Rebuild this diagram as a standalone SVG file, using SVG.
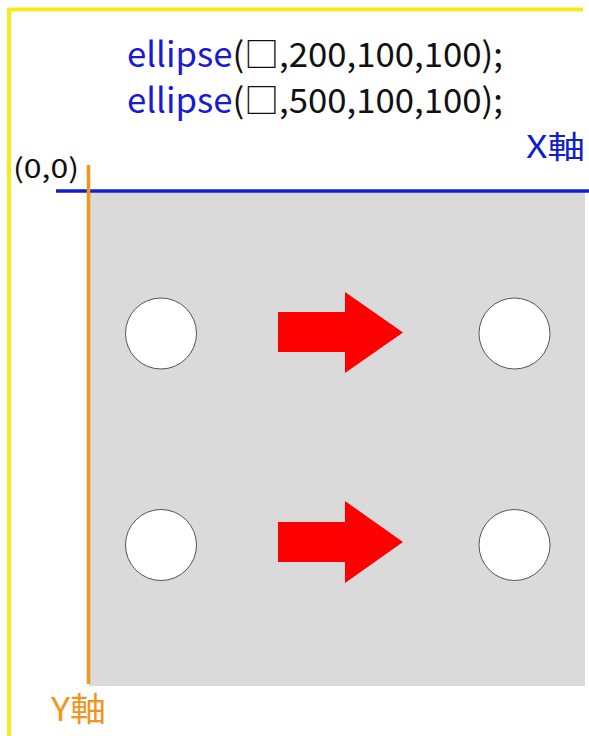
<svg xmlns="http://www.w3.org/2000/svg" width="589" height="736" viewBox="0 0 589 736">
<style>
.code{font-family:"Noto Sans CJK JP","Noto Sans",sans-serif;font-size:34px;fill:#111}
.kw{fill:#1a1ad0}
.lbl{font-family:"Noto Sans CJK JP","Noto Sans",sans-serif}
.circ{fill:#fff;stroke:#555;stroke-width:1}
.arr{fill:#ff0000}
</style>
<rect x="0" y="0" width="589" height="736" fill="#fff"/>
<g id="frame">
<line x1="9" y1="9.5" x2="583" y2="9.5" stroke="#f5ea1a" stroke-width="4"/>
<line x1="9" y1="8" x2="9" y2="736" stroke="#f5ea1a" stroke-width="4"/>
</g>
<g id="canvas">
<rect x="89" y="191" width="496" height="495" fill="#dadada"/>
</g>
<g id="code">
<text class="code" x="127" y="67" textLength="376" lengthAdjust="spacingAndGlyphs"><tspan class="kw">ellipse</tspan>(□,200,100,100);</text>
<text class="code" x="127" y="113" textLength="376" lengthAdjust="spacingAndGlyphs"><tspan class="kw">ellipse</tspan>(□,500,100,100);</text>
</g>
<g id="axes">
<line x1="56" y1="191" x2="589" y2="191" stroke="#1020c8" stroke-width="3.5"/>
<line x1="88.5" y1="165" x2="88.5" y2="684" stroke="#f0961e" stroke-width="3.5"/>
<text class="lbl" x="13" y="178" font-size="27" fill="#111" textLength="66" lengthAdjust="spacingAndGlyphs">(0,0)</text>
<text class="lbl" x="526" y="158" font-size="31" fill="#1020c8" textLength="59" lengthAdjust="spacingAndGlyphs">X軸</text>
<text class="lbl" x="51" y="721" font-size="33" fill="#f0961e" textLength="55" lengthAdjust="spacingAndGlyphs">Y軸</text>
</g>
<g id="c1"><circle class="circ" cx="161" cy="333.5" r="35.5"/></g>
<g id="c2"><circle class="circ" cx="514.5" cy="333.5" r="35.5"/></g>
<g id="c3"><circle class="circ" cx="161" cy="545" r="35.5"/></g>
<g id="c4"><circle class="circ" cx="514.5" cy="545" r="35.5"/></g>
<g id="arrows">
<polygon class="arr" points="278,312 345,312 345,292 403,332.5 345,373 345,352 278,352"/>
<polygon class="arr" points="278,522 345,522 345,501 403,542 345,583 345,562 278,562"/>
</g>
</svg>
